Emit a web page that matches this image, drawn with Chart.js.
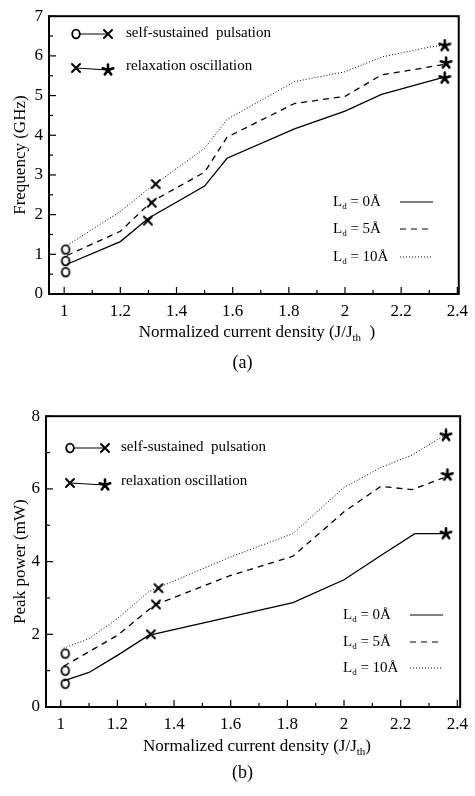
<!DOCTYPE html>
<html>
<head>
<meta charset="utf-8">
<script src="https://cdn.jsdelivr.net/npm/chart.js@4.4.1/dist/chart.umd.min.js"></script>
<style>
  body { margin: 0; background: #fff; width: 475px; height: 796px; position: relative; overflow: hidden; font-family: "Liberation Serif", serif; }
  .panel { position: absolute; left: 0; }
  .cap { position: absolute; left: 5px; width: 475px; text-align: center; font-size: 18px; line-height: 20px; color: #000; }
</style>
</head>
<body>
<div class="panel" style="top:0"><canvas id="chartA" width="475" height="395"></canvas></div>
<div class="panel" style="top:400px"><canvas id="chartB" width="475" height="396"></canvas></div>
<div class="cap" style="top:352px">(a)</div>
<div class="cap" style="top:762px">(b)</div>
<script>
const SERIF = "'Liberation Serif', 'Times New Roman', serif";

// shared x axis
const xTicks = [1, 1.2, 1.4, 1.6, 1.8, 2, 2.2, 2.4];
const xMinorTicks = [1.1, 1.3, 1.5, 1.7, 1.9, 2.1, 2.3];

// (a) frequency
const freqTicks = [0, 1, 2, 3, 4, 5, 6, 7];
const freqMinorTicks = [0.5, 1.5, 2.5, 3.5, 4.5, 5.5, 6.5];
const freqX0 = [1.01, 1.2, 1.3, 1.5, 1.58, 1.82, 2.0, 2.13, 2.35];
const freqY0 = [0.75, 1.32, 1.91, 2.72, 3.42, 4.16, 4.61, 5.03, 5.46];
const freqX5 = [1.01, 1.2, 1.31, 1.5, 1.58, 1.82, 2.0, 2.13, 2.35];
const freqY5 = [0.97, 1.58, 2.32, 3.07, 3.95, 4.8, 4.98, 5.52, 5.78];
const freqX10 = [1.01, 1.2, 1.3, 1.5, 1.58, 1.82, 2.0, 2.13, 2.3, 2.35];
const freqY10 = [1.22, 2.08, 2.65, 3.67, 4.4, 5.35, 5.6, 5.97, 6.22, 6.27];
const freqOpenX = [1.005, 1.005, 1.005];
const freqOpenY = [0.55, 0.83, 1.12];
const freqCrossX = [1.298, 1.312, 1.326];
const freqCrossY = [1.85, 2.3, 2.77];
const freqStarX = [2.355, 2.36, 2.355];
const freqStarY = [5.44, 5.82, 6.26];

// (b) peak power
const powTicks = [0, 2, 4, 6, 8];
const powMinorTicks = [1, 3, 5, 7];
const powX0 = [1.01, 1.1, 1.2, 1.31, 1.82, 2.0, 2.13, 2.25, 2.35];
const powY0 = [0.72, 0.95, 1.42, 1.97, 2.87, 3.5, 4.17, 4.77, 4.77];
const powX5 = [1.01, 1.2, 1.33, 1.6, 1.82, 2.0, 2.13, 2.24, 2.35];
const powY5 = [1.12, 1.97, 2.8, 3.62, 4.15, 5.37, 6.07, 5.98, 6.3];
const powX10 = [1.01, 1.1, 1.2, 1.31, 1.6, 1.82, 2.0, 2.13, 2.24, 2.35];
const powY10 = [1.62, 1.88, 2.43, 3.17, 4.13, 4.77, 6.04, 6.59, 6.93, 7.45];
const powOpenX = [1.016, 1.016, 1.016];
const powOpenY = [0.64, 1.0, 1.47];
const powCrossX = [1.318, 1.336, 1.345];
const powCrossY = [2.0, 2.82, 3.27];
const powStarX = [2.36, 2.365, 2.36];
const powStarY = [4.77, 6.38, 7.47];

const legendTop = ["self-sustained  pulsation", "relaxation oscillation"];
const legendLd = ["= 0\u00C5", "= 5\u00C5", "= 10\u00C5"];

function pts(xs, ys) {
  return xs.map((x, i) => ({ x: x, y: ys[i] }));
}

// marker glyphs, used as pointStyle and in the legend
function makeMark(kind) {
  const c = document.createElement("canvas");
  c.width = 14;
  c.height = 14;
  const g = c.getContext("2d");
  g.strokeStyle = "#000";
  g.lineCap = "round";
  if (kind == "open") {
    g.lineWidth = 1.8;
    g.fillStyle = "#fff";
    g.beginPath();
    g.ellipse(7, 7, 3.8, 4.3, 0, 0, Math.PI * 2);
    g.fill();
    g.stroke();
  } else if (kind == "cross") {
    g.lineWidth = 2;
    g.beginPath();
    g.moveTo(3, 3); g.lineTo(11, 11);
    g.moveTo(11, 3); g.lineTo(3, 11);
    g.stroke();
  } else {
    g.lineWidth = 2.6;
    g.beginPath();
    for (let k = 0; k < 5; k++) {
      const a = -Math.PI / 2 + k * 2 * Math.PI / 5;
      g.moveTo(7, 7);
      g.lineTo(7 + 5.5 * Math.cos(a), 7 + 5.5 * Math.sin(a));
    }
    g.stroke();
  }
  return c;
}
const markOpen = makeMark("open");
const markCross = makeMark("cross");
const markStar = makeMark("star");

function seg(ctx, x1, y1, x2, y2) {
  ctx.beginPath();
  ctx.moveTo(x1, y1);
  ctx.lineTo(x2, y2);
  ctx.stroke();
}

function subText(ctx, x, y, main, sub, rest, size) {
  ctx.font = size + "px " + SERIF;
  ctx.fillText(main, x, y);
  x += ctx.measureText(main).width;
  ctx.font = Math.round(size * 0.62) + "px " + SERIF;
  ctx.fillText(sub, x, y + size * 0.3);
  x += ctx.measureText(sub).width;
  ctx.font = size + "px " + SERIF;
  ctx.fillText(rest, x, y);
}

const paperPlugin = {
  id: "paper",
  afterDraw(chart, args, opts) {
    const ctx = chart.ctx;
    const area = chart.chartArea;
    const xs = chart.scales.x;
    const ys = chart.scales.y;
    ctx.save();
    ctx.strokeStyle = "#000";
    ctx.fillStyle = "#000";
    ctx.lineWidth = 1.2;
    xTicks.forEach((v) => { const p = xs.getPixelForValue(v); seg(ctx, p, area.bottom, p, area.bottom - 7); });
    xMinorTicks.forEach((v) => { const p = xs.getPixelForValue(v); seg(ctx, p, area.bottom, p, area.bottom - 4); });
    opts.yMajor.forEach((v) => { const p = ys.getPixelForValue(v); seg(ctx, area.left, p, area.left + 7, p); });
    opts.yMinor.forEach((v) => { const p = ys.getPixelForValue(v); seg(ctx, area.left, p, area.left + 4, p); });
    ctx.lineWidth = 2;
    ctx.strokeRect(area.left, area.top, area.right - area.left, area.bottom - area.top);

    // marker legend
    const L = opts.legend;
    ctx.lineWidth = 1;
    seg(ctx, L.mx1, L.row1, L.mx2, L.row1);
    seg(ctx, L.mx1, L.row2, L.mx2, L.row2 + 2);
    ctx.drawImage(markOpen, L.mx1 - 7, L.row1 - 7);
    ctx.drawImage(markCross, L.mx2 - 7, L.row1 - 7);
    ctx.drawImage(markCross, L.mx1 - 7, L.row2 - 7);
    ctx.drawImage(markStar, L.mx2 - 7, L.row2 - 5);
    ctx.textBaseline = "middle";
    ctx.textAlign = "left";
    ctx.font = "15px " + SERIF;
    ctx.fillText(legendTop[0], L.tx, L.row1 - 1);
    ctx.fillText(legendTop[1], L.tx, L.row2 - 2);

    // line style legend
    const dashes = [[], [6, 5], [1, 2]];
    legendLd.forEach((t, i) => {
      const y = L.ldRows[i];
      subText(ctx, L.ldx, y, "L", "d", " " + t, 15);
      ctx.lineWidth = i == 2 ? 1 : 1.2;
      ctx.setLineDash(dashes[i]);
      seg(ctx, L.lx1, y, L.lx2, y);
      ctx.setLineDash([]);
    });

    // x axis title with subscript
    const head = "Normalized current density (J/J";
    const tail = opts.tail;
    ctx.font = "17px " + SERIF;
    const w1 = ctx.measureText(head).width;
    const w3 = ctx.measureText(tail).width;
    ctx.font = "11px " + SERIF;
    const w2 = ctx.measureText("th").width;
    subText(ctx, opts.titleX - (w1 + w2 + w3) / 2, opts.titleY, head, "th", tail, 17);
    ctx.restore();
  },
};

function createChart(id, s) {
  const ctx = document.getElementById(id).getContext("2d");
  const lineBase = { showLine: true, pointRadius: 0, borderColor: "#000", fill: false, tension: 0 };
  const markBase = { showLine: false, pointRadius: 7, pointBorderWidth: 0 };
  new Chart(ctx, {
    type: "scatter",
    data: {
      datasets: [
        Object.assign({ data: s.solid, borderWidth: 1.3 }, lineBase),
        Object.assign({ data: s.dashed, borderWidth: 1.3, borderDash: [6, 5] }, lineBase),
        Object.assign({ data: s.dotted, borderWidth: 1, borderDash: [1, 2] }, lineBase),
        Object.assign({ data: s.open, pointStyle: markOpen }, markBase),
        Object.assign({ data: s.cross, pointStyle: markCross }, markBase),
        Object.assign({ data: s.star, pointStyle: markStar }, markBase),
      ],
    },
    options: {
      responsive: false,
      animation: false,
      layout: { padding: { top: s.padTop, right: s.padRight, left: 0, bottom: 0 } },
      plugins: {
        legend: { display: false },
        tooltip: { enabled: false },
        paper: { yMajor: s.yTicks, yMinor: s.yMinor, legend: s.legend, titleX: s.titleX, titleY: s.titleY, tail: s.tail },
      },
      scales: {
        x: {
          type: "linear",
          min: s.xMin,
          max: s.xMax,
          afterBuildTicks: (scale) => { scale.ticks = xTicks.map((v) => ({ value: v })); },
          afterFit: (scale) => { scale.height = s.xHeight; },
          grid: { display: false, drawTicks: false },
          border: { display: false },
          ticks: { color: "#000", padding: 7, maxRotation: 0, font: { family: SERIF, size: 17 }, callback: (v) => String(v) },
        },
        y: {
          type: "linear",
          min: 0,
          max: s.yMax,
          afterBuildTicks: (scale) => { scale.ticks = s.yTicks.map((v) => ({ value: v })); },
          afterFit: (scale) => { scale.width = s.yWidth; },
          grid: { display: false, drawTicks: false },
          border: { display: false },
          ticks: { color: "#000", padding: 6, font: { family: SERIF, size: 17 }, callback: (v) => String(v) },
          title: { display: true, text: s.yTitle, color: "#000", padding: { top: 10, bottom: 0 }, font: { family: SERIF, size: 17 } },
        },
      },
    },
    plugins: [paperPlugin],
  });
}

createChart("chartA", {
  solid: pts(freqX0, freqY0),
  dashed: pts(freqX5, freqY5),
  dotted: pts(freqX10, freqY10),
  open: pts(freqOpenX, freqOpenY),
  cross: pts(freqCrossX, freqCrossY),
  star: pts(freqStarX, freqStarY),
  yTicks: freqTicks,
  yMinor: freqMinorTicks,
  yMax: 7,
  yTitle: "Frequency (GHz)",
  xMin: 0.946,
  xMax: 2.405,
  padTop: 11,
  padRight: 10,
  yWidth: 49,
  xHeight: 101,
  titleX: 257,
  titleY: 333,
  tail: "  )",
  legend: { mx1: 76, mx2: 108, row1: 34, row2: 68, tx: 126, ldx: 333, ldRows: [202, 229, 257], lx1: 400, lx2: 433 },
});

createChart("chartB", {
  solid: pts(powX0, powY0),
  dashed: pts(powX5, powY5),
  dotted: pts(powX10, powY10),
  open: pts(powOpenX, powOpenY),
  cross: pts(powCrossX, powCrossY),
  star: pts(powStarX, powStarY),
  yTicks: powTicks,
  yMinor: powMinorTicks,
  yMax: 8,
  yTitle: "Peak power (mW)",
  xMin: 0.948,
  xMax: 2.41,
  padTop: 16,
  padRight: 5,
  yWidth: 46,
  xHeight: 89,
  titleX: 257,
  titleY: 347,
  tail: ")",
  legend: { mx1: 70, mx2: 105, row1: 48, row2: 83, tx: 121, ldx: 343, ldRows: [215, 242, 268], lx1: 410, lx2: 443 },
});
</script>
</body>
</html>
